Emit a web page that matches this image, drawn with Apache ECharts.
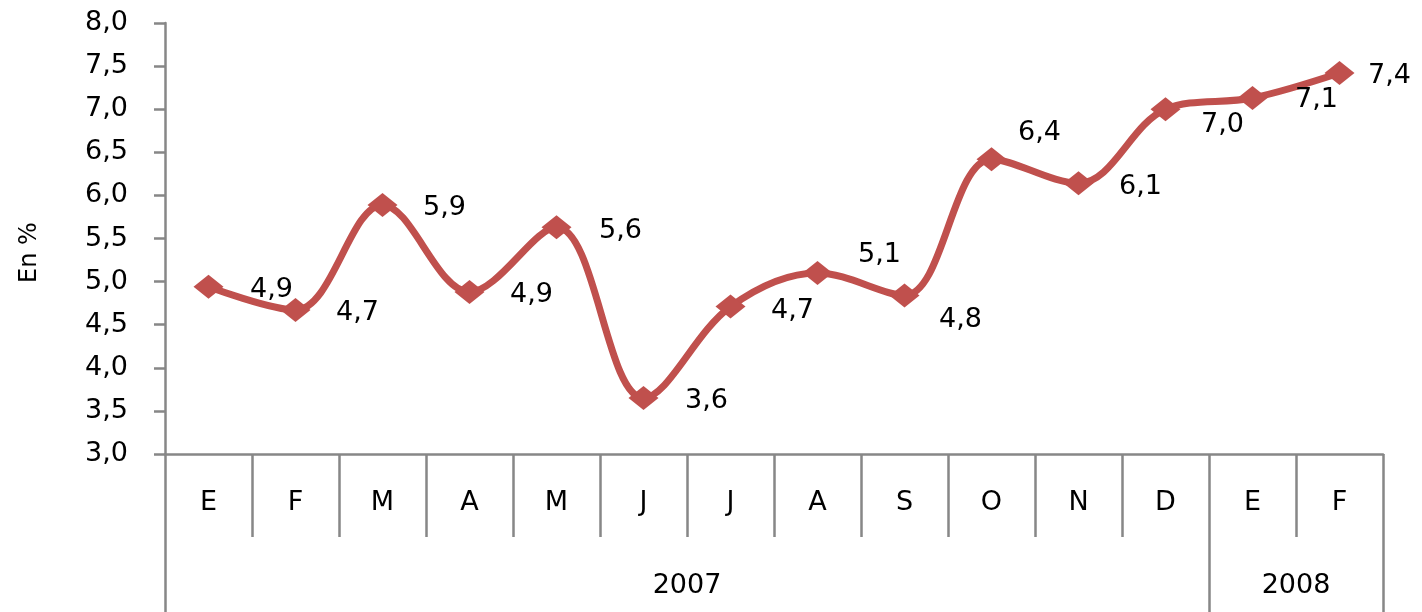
<!DOCTYPE html>
<html>
<head>
<meta charset="utf-8">
<script src="https://cdn.jsdelivr.net/npm/echarts@6/dist/echarts.min.js"></script>
<style>html,body{margin:0;padding:0;background:#fff;}#c{width:1422px;height:612px;}</style>
</head>
<body>
<div id="c"></div>
<script>
var months = ['E','F','M','A','M','J','J','A','S','O','N','D','E','F'];
var values = [4.94, 4.67, 5.89, 4.88, 5.63, 3.65, 4.71, 5.10, 4.84, 6.42, 6.14, 7.00, 7.13, 7.42];
var years = ['2007', '2008'];
var yearSpans = [12, 2];
var yTickMin = 3, yTickMax = 8, yTickStep = 0.5;
var yName = 'En %';

// label placement (style only)
var labelOffsets = [[63,3],[62,3],[62,3],[62,3],[64,4],[63,3],[62,4],[62,-18],[56,25],[48,-26],[62,4],[57,16],[64,2],[50,3]];

var fontFam = '"DejaVu Sans", Verdana, sans-serif';
var grey = '#878787';
var fs = 27;

// year boundaries and centres computed from spans
var yearBounds = [0], yearCenters = [], acc = 0;
yearSpans.forEach(function (s) { yearCenters.push(acc + s / 2); acc += s; yearBounds.push(acc); });

function fmt(v) { return v.toFixed(1).replace('.', ','); }

var chart = echarts.init(document.getElementById('c'), null, {renderer: 'canvas'});
chart.setOption({
  animation: false,
  grid: {left: 165, right: 39, top: 23, bottom: 158, containLabel: false},
  xAxis: [{
    type: 'category',
    data: months,
    boundaryGap: true,
    axisLine: {show: true, lineStyle: {color: grey, width: 2.5}},
    axisTick: {show: true, interval: 0, length: 83, lineStyle: {color: grey, width: 2.5}},
    axisLabel: {interval: 0, margin: 35, color: '#000', fontSize: fs, fontFamily: fontFam},
    splitLine: {show: false}
  }, {
    type: 'value',
    min: 0,
    max: months.length,
    position: 'bottom',
    offset: 82,
    axisLine: {show: false},
    axisTick: {show: true, customValues: yearBounds, length: 76, lineStyle: {color: grey, width: 2.5}},
    axisLabel: {
      show: true, customValues: yearCenters, margin: 36, color: '#000', fontSize: fs, fontFamily: fontFam,
      formatter: function (v) { var i = yearCenters.indexOf(v); return i >= 0 ? years[i] : ''; }
    },
    splitLine: {show: false}
  }],
  yAxis: {
    type: 'value',
    min: yTickMin,
    max: yTickMax,
    interval: yTickStep,
    name: yName,
    nameLocation: 'middle',
    nameGap: 123,
    nameRotate: 90,
    nameTextStyle: {color: '#000', fontSize: 24, fontFamily: fontFam, padding: [0, 28, 0, 0]},
    axisLine: {show: true, lineStyle: {color: grey, width: 2.5}},
    axisTick: {show: true, length: 11, lineStyle: {color: grey, width: 2.5}},
    axisLabel: {margin: 37, color: '#000', fontSize: fs, fontFamily: fontFam, formatter: fmt},
    splitLine: {show: false}
  },
  series: [{
    type: 'line',
    data: values.map(function (v, i) {
      return {
        value: v,
        label: {offset: labelOffsets[i]}
      };
    }),
    smooth: 0.35,
    lineStyle: {color: '#C0504D', width: 7},
    itemStyle: {color: '#C0504D'},
    symbol: 'diamond',
    symbolSize: [30, 24],
    label: {
      show: true,
      position: 'inside',
      align: 'center',
      verticalAlign: 'middle',
      color: '#000',
      fontSize: fs,
      fontFamily: fontFam,
      formatter: function (p) { return fmt(p.value); }
    },
    z: 3
  }]
});
</script>
</body>
</html>
